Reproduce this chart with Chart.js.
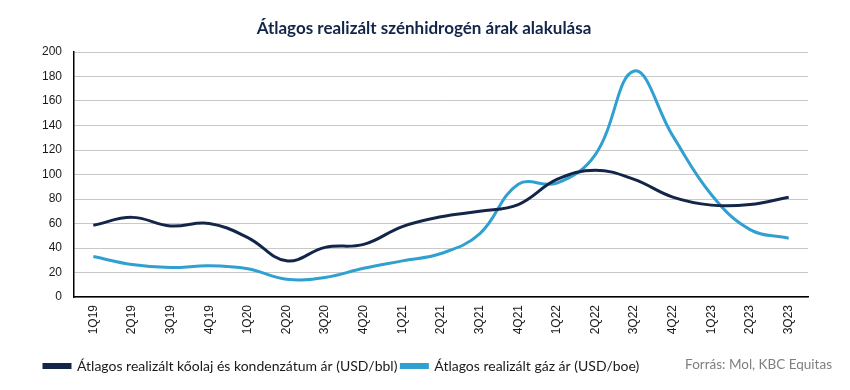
<!DOCTYPE html>
<html>
<head>
<meta charset="utf-8">
<script src="https://cdn.jsdelivr.net/npm/chart.js@4.4.0/dist/chart.umd.min.js"></script>
<style>
  html, body { margin: 0; padding: 0; background: #fff; }
  #wrap { width: 850px; height: 390px; position: relative; }
</style>
</head>
<body>
<div id="wrap"><canvas id="linechart" width="850" height="390"></canvas></div>
<script>
const quarters = ["1Q19","2Q19","3Q19","4Q19","1Q20","2Q20","3Q20","4Q20","1Q21","2Q21",
                  "3Q21","4Q21","1Q22","2Q22","3Q22","4Q22","1Q23","2Q23","3Q23"];
const oilPrice = [58.5, 65, 58, 60, 48.5, 29.5, 40.5, 43, 57.5, 65.5,
                  70, 75.5, 96, 103.5, 96, 81.5, 75, 75.5, 81.5];
const gasPrice = [33, 26.5, 24, 25.5, 23, 14.5, 16, 23.5, 29.5, 35.5,
                  51.5, 92, 93, 116.5, 184.5, 131.5, 83.5, 55, 48];
const yTicks = [0, 20, 40, 60, 80, 100, 120, 140, 160, 180, 200];

const oilColor = '#13264a';
const gasColor = '#30a0d0';

// source note on the right side of the legend row
const sourceNote = {
    id: 'sourceNote',
    afterDraw(chart) {
        const c = chart.ctx;
        c.save();
        c.font = '13.5px Lato';
        c.fillStyle = '#7f7f7f';
        c.textAlign = 'right';
        c.textBaseline = 'middle';
        c.fillText('Forrás: Mol, KBC Equitas', 832, 365);
        c.restore();
    }
};

const ctx = document.getElementById("linechart");

const myChart = new Chart(ctx, {
    type: 'line',
    data: {
        labels: quarters,
        datasets: [{
            label: 'Átlagos realizált kőolaj és kondenzátum ár (USD/bbl)',
            data: oilPrice,
            borderColor: oilColor,
            backgroundColor: oilColor,
            borderWidth: 3,
            pointRadius: 0,
            tension: 0.4,
            fill: false
        }, {
            label: 'Átlagos realizált gáz ár (USD/boe)',
            data: gasPrice,
            borderColor: gasColor,
            backgroundColor: gasColor,
            borderWidth: 3,
            pointRadius: 0,
            tension: 0.4,
            fill: false
        }]
    },
    options: {
        responsive: false,
        animation: false,
        layout: {
            padding: { left: 40, right: 42, top: 0, bottom: 7 }
        },
        plugins: {
            title: {
                display: true,
                text: 'Átlagos realizált szénhidrogén árak alakulása',
                color: '#13264a',
                font: { family: 'Lato', size: 17, weight: 'bold' },
                padding: { top: 18, bottom: 13.6 }
            },
            legend: {
                position: 'bottom',
                align: 'start',
                labels: {
                    color: '#1a1a1a',
                    font: { family: 'Lato', size: 14 },
                    boxWidth: 26,
                    boxHeight: 3,
                    padding: 4
                }
            },
            tooltip: { enabled: false }
        },
        scales: {
            x: {
                offset: true,
                grid: { display: false, drawTicks: false },
                border: { color: '#000', width: 1.5 },
                ticks: {
                    color: '#1a1a1a',
                    font: { family: 'Liberation Sans', size: 12 },
                    minRotation: 90,
                    maxRotation: 90,
                    padding: 8
                },
                afterFit(scale) { scale.height = 58; }
            },
            y: {
                min: 0,
                max: 200,
                afterBuildTicks(scale) { scale.ticks = yTicks.map(v => ({ value: v })); },
                grid: { color: '#c8c8c8', lineWidth: 1, drawTicks: false },
                border: { color: '#000', width: 1.5 },
                ticks: {
                    color: '#1a1a1a',
                    font: { family: 'Liberation Sans', size: 12 },
                    padding: 12
                },
                afterFit(scale) { scale.width = 34; }
            }
        }
    },
    plugins: [sourceNote]
});
</script>
</body>
</html>
